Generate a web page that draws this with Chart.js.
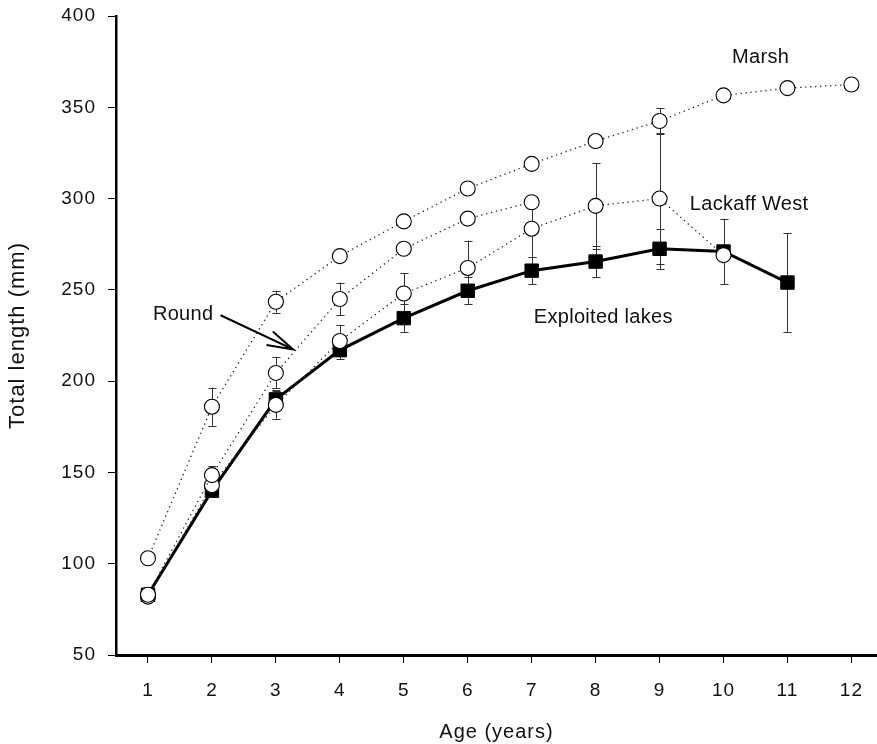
<!DOCTYPE html>
<html><head><meta charset="utf-8">
<script src="https://cdn.jsdelivr.net/npm/chart.js@4"></script>
<style>html,body{margin:0;padding:0;background:#fff;}#wrap{width:877px;height:744px;}</style>
</head><body><div id="wrap"><canvas id="c" width="877" height="744"></canvas></div>
<script>
// ---- data ----
const ageTicks = [1,2,3,4,5,6,7,8,9,10,11,12];
const marshAges = [1,2,3,4,5,6,7,8,9,10,11,12];
const marshLen  = [103,186,243.5,268.5,287.5,305.5,319,331.5,342.5,356.5,360.5,362.5];
const marshErr  = [0,10.5,6,0,0,0,0,3,7,0,0,0];
const roundAges = [1,2,3,4,5,6,7];
const roundLen  = [83,148.5,204.5,245,272.5,289,298];
const roundErr  = [0,5,8.5,9,0,0,0];
const lackaffAges = [1,2,3,4,5,6,7,8,9,10];
const lackaffLen  = [82,143,187,222,248,262,283.5,296,300,269];
const lackaffErr  = [0,4,7.5,8.5,11,15,15.5,23.5,36,0];
const exploitedAges = [1,2,3,4,5,6,7,8,9,10,11];
const exploitedLen  = [83,140,190,217,234.5,249.5,260.5,265.5,272.5,271,254];
const exploitedErr  = [4,3,5,5,7.5,7.5,7.5,8.5,11,18,27];
const yTicks = [50,100,150,200,250,300,350,400];

// annotation anchors (data space)
const labelTexts = ['Marsh','Lackaff West','Round','Exploited lakes'];
const labelAnchors = [[10.58,377.3],[10.40,296.9],[1.55,236.5],[8.12,235]];
const arrowTail = [2.135,236.1];
const arrowTip  = [3.27,217.4];

const pts = (xs, ys) => xs.map((a,i)=>({x:a,y:ys[i]}));
const FONT = '"Liberation Sans", Arial, Helvetica, sans-serif';

const dotted = {
  borderColor:'#222', borderWidth:1.3, borderDash:[1.3,3.7],
  pointStyle:'circle', pointRadius:7.5, pointHoverRadius:7.5,
  pointBackgroundColor:'#fff', pointBorderColor:'#000', pointBorderWidth:1.1,
  tension:0, fill:false
};

const errorBars = {
  id:'errorBars',
  beforeDatasetsDraw(chart){
    const {ctx, scales:{x,y}} = chart;
    ctx.save();
    ctx.strokeStyle = '#333';
    ctx.lineWidth = 1;
    chart.data.datasets.forEach(ds=>{
      ds.data.forEach((p,i)=>{
        const e = ds.errors[i];
        if(!e) return;
        const px = Math.round(x.getPixelForValue(p.x)) + 0.5;
        const yt = y.getPixelForValue(p.y + e);
        const yb = y.getPixelForValue(p.y - e);
        ctx.beginPath();
        ctx.moveTo(px, yt); ctx.lineTo(px, yb);
        ctx.moveTo(px-4, Math.round(yt)+0.5); ctx.lineTo(px+4, Math.round(yt)+0.5);
        ctx.moveTo(px-4, Math.round(yb)+0.5); ctx.lineTo(px+4, Math.round(yb)+0.5);
        ctx.stroke();
      });
    });
    ctx.restore();
  }
};

const spacing = {
  id:'spacing',
  beforeDraw(chart){ chart.ctx.letterSpacing = '1px'; }
};

const annotations = {
  id:'annotations',
  afterDatasetsDraw(chart){
    const {ctx, scales:{x,y}} = chart;
    ctx.save();
    ctx.letterSpacing = '0.3px';
    ctx.fillStyle = '#111';
    ctx.font = '20px ' + FONT;
    ctx.textAlign = 'center';
    ctx.textBaseline = 'middle';
    labelTexts.forEach((t,i)=>{
      ctx.fillText(t, x.getPixelForValue(labelAnchors[i][0]), y.getPixelForValue(labelAnchors[i][1]));
    });
    // arrow
    const tx = x.getPixelForValue(arrowTail[0]), ty = y.getPixelForValue(arrowTail[1]);
    const hx = x.getPixelForValue(arrowTip[0]),  hy = y.getPixelForValue(arrowTip[1]);
    const ang = Math.atan2(hy-ty, hx-tx);
    const L = 27, a = 16*Math.PI/180;
    ctx.strokeStyle = '#000';
    ctx.lineWidth = 2;
    ctx.beginPath();
    ctx.moveTo(tx,ty); ctx.lineTo(hx,hy);
    ctx.moveTo(hx - L*Math.cos(ang-a), hy - L*Math.sin(ang-a)); ctx.lineTo(hx,hy);
    ctx.lineTo(hx - L*Math.cos(ang+a), hy - L*Math.sin(ang+a));
    ctx.stroke();
    ctx.restore();
  }
};

new Chart(document.getElementById('c'), {
  type:'line',
  data:{
    datasets:[
      Object.assign({label:'Marsh', data:pts(marshAges, marshLen), errors:marshErr}, dotted),
      Object.assign({label:'Round', data:pts(roundAges, roundLen), errors:roundErr}, dotted),
      Object.assign({label:'Lackaff West', data:pts(lackaffAges, lackaffLen), errors:lackaffErr}, dotted),
      {label:'Exploited lakes', data:pts(exploitedAges, exploitedLen), errors:exploitedErr,
       borderColor:'#000', borderWidth:3, pointStyle:'rect', pointRadius:9.5, pointHoverRadius:9.5,
       pointBackgroundColor:'#000', pointBorderColor:'#000', pointBorderWidth:1, tension:0, fill:false}
    ]
  },
  options:{
    responsive:false, animation:false, devicePixelRatio:1,
    layout:{autoPadding:false, padding:{top:16,left:0,right:0,bottom:0}},
    plugins:{legend:{display:false}, tooltip:{enabled:false}},
    scales:{
      x:{
        type:'linear', min:0.5, max:12.4,
        afterBuildTicks(s){ s.ticks = ageTicks.map(v=>({value:v})); },
        afterFit(s){ s.height = 89; s.paddingLeft = 0; s.paddingRight = 0; },
        grid:{display:true, drawOnChartArea:false, drawTicks:true, tickLength:8, color:'#000', lineWidth:1},
        border:{display:true, color:'#000', width:3},
        ticks:{color:'#111', font:{family:FONT, size:19}, padding:16, maxRotation:0, autoSkip:false},
        title:{display:true, text:'Age (years)', color:'#111', font:{family:FONT, size:20}, padding:{top:0,bottom:0}}
      },
      y:{
        type:'linear', min:50, max:400,
        afterBuildTicks(s){ s.ticks = yTicks.map(v=>({value:v})); },
        afterFit(s){ s.width = 116; s.paddingTop = 0; s.paddingBottom = 0; },
        grid:{display:true, drawOnChartArea:false, drawTicks:true, tickLength:8, color:'#000', lineWidth:1},
        border:{display:true, color:'#000', width:2.5},
        ticks:{color:'#111', font:{family:FONT, size:19}, padding:12},
        title:{display:true, text:'Total length (mm)', color:'#111', font:{family:FONT, size:22}, padding:{top:5,bottom:0}}
      }
    }
  },
  plugins:[spacing, errorBars, annotations]
});
</script>
</body></html>
